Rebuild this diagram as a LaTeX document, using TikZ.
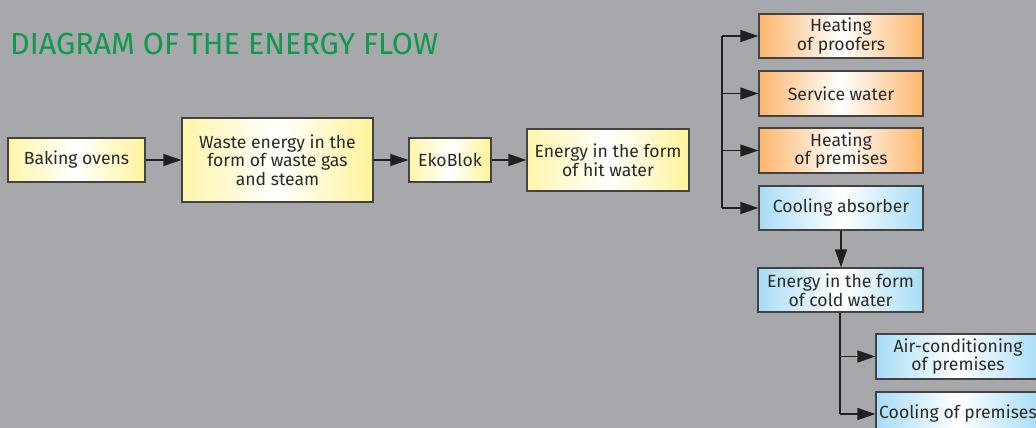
\documentclass[tikz,border=0pt]{standalone}
\usepackage{fontspec}
\setmainfont{Fira Sans}
\usetikzlibrary{arrows.meta}
\definecolor{bg}{HTML}{A7A8AC}
\definecolor{ttl}{HTML}{0E9A4A}
\definecolor{ink}{HTML}{2A2A2A}
\definecolor{lnk}{HTML}{231F20}
\definecolor{ylw}{HTML}{FFF39A}
\definecolor{org}{HTML}{FDB56C}
\definecolor{blu}{HTML}{A8DCF5}
\tikzset{
  box/.style={draw=lnk!85, line width=1.2pt, inner sep=0pt, align=center,
    text=ink, font=\fontsize{17.6}{18.5}\selectfont},
  ybox/.style={box, left color=ylw!85, right color=ylw, middle color=white},
  obox/.style={box, left color=org, right color=org, middle color=white},
  bbox/.style={box, left color=blu, right color=blu, middle color=white},
  link/.style={draw=lnk, line width=1.3pt, -{Triangle[length=18pt,width=12pt]}},
  plain/.style={draw=lnk, line width=1.3pt},
}
\begin{document}
\begin{tikzpicture}[x=1pt,y=-1pt]
\fill[bg] (0,0) rectangle (1036,428);
\useasboundingbox (0,0) rectangle (1036,428);
\begin{scope}
\clip (0,0) rectangle (1036,428);
\node[anchor=base west, text=ttl, font=\fontsize{30.5}{32}\selectfont, inner sep=0pt] (title) at (10,55) {DIAGRAM OF THE ENERGY FLOW};

\node[ybox, minimum width=137pt, minimum height=44pt] (bake) at (76.5,160) {Baking ovens};
\node[ybox, minimum width=191pt, minimum height=84pt] (waste) at (277.5,160) {Waste energy in the\\form of waste gas\\and steam};
\node[ybox, minimum width=82pt, minimum height=44pt] (eko) at (450,160) {EkoBlok};
\node[ybox, minimum width=162pt, minimum height=62pt] (hot) at (608,160) {Energy in the form\\of hit water};

\node[obox, minimum width=164pt, minimum height=44pt] (proof) at (841,36) {Heating\\of proofers};
\node[obox, minimum width=164pt, minimum height=45pt] (serv) at (841,93.5) {Service water};
\node[obox, minimum width=164pt, minimum height=45pt] (prem) at (841,150.5) {Heating\\of premises};
\node[bbox, minimum width=164pt, minimum height=44pt] (absorb) at (841,208) {Cooling absorber};
\node[bbox, minimum width=165pt, minimum height=44pt] (cold) at (840.5,290) {Energy in the form\\of cold water};
\node[bbox, minimum width=164pt, minimum height=45pt] (air) at (958,356.5) {Air-conditioning\\of premises};
\node[bbox, minimum width=164pt, minimum height=44pt] (coolp) at (958,414) {Cooling of premises};

\draw[link] (bake) -- (waste);
\draw[link] (waste) -- (eko);
\draw[link] (eko) -- (hot);

\coordinate (vt) at (722,36);
\coordinate (vb) at (722,208);
\draw[plain] (vt) -- (vb);
\draw[link] (vt) -- (proof.west);
\draw[link] (722,93.5) -- (serv.west);
\draw[link] (722,150.5) -- (prem.west);
\draw[link] (vb) -- (absorb.west);

\draw[link] (absorb.south -| 841,0) -- (cold.north -| 841,0);

\coordinate (ct) at (840,312);
\coordinate (cb) at (840,414);
\draw[plain] (cold.south -| ct) -- (cb);
\draw[link] (840,356.5) -- (air.west);
\draw[link] (cb) -- (coolp.west);
\end{scope}
\end{tikzpicture}
\end{document}
